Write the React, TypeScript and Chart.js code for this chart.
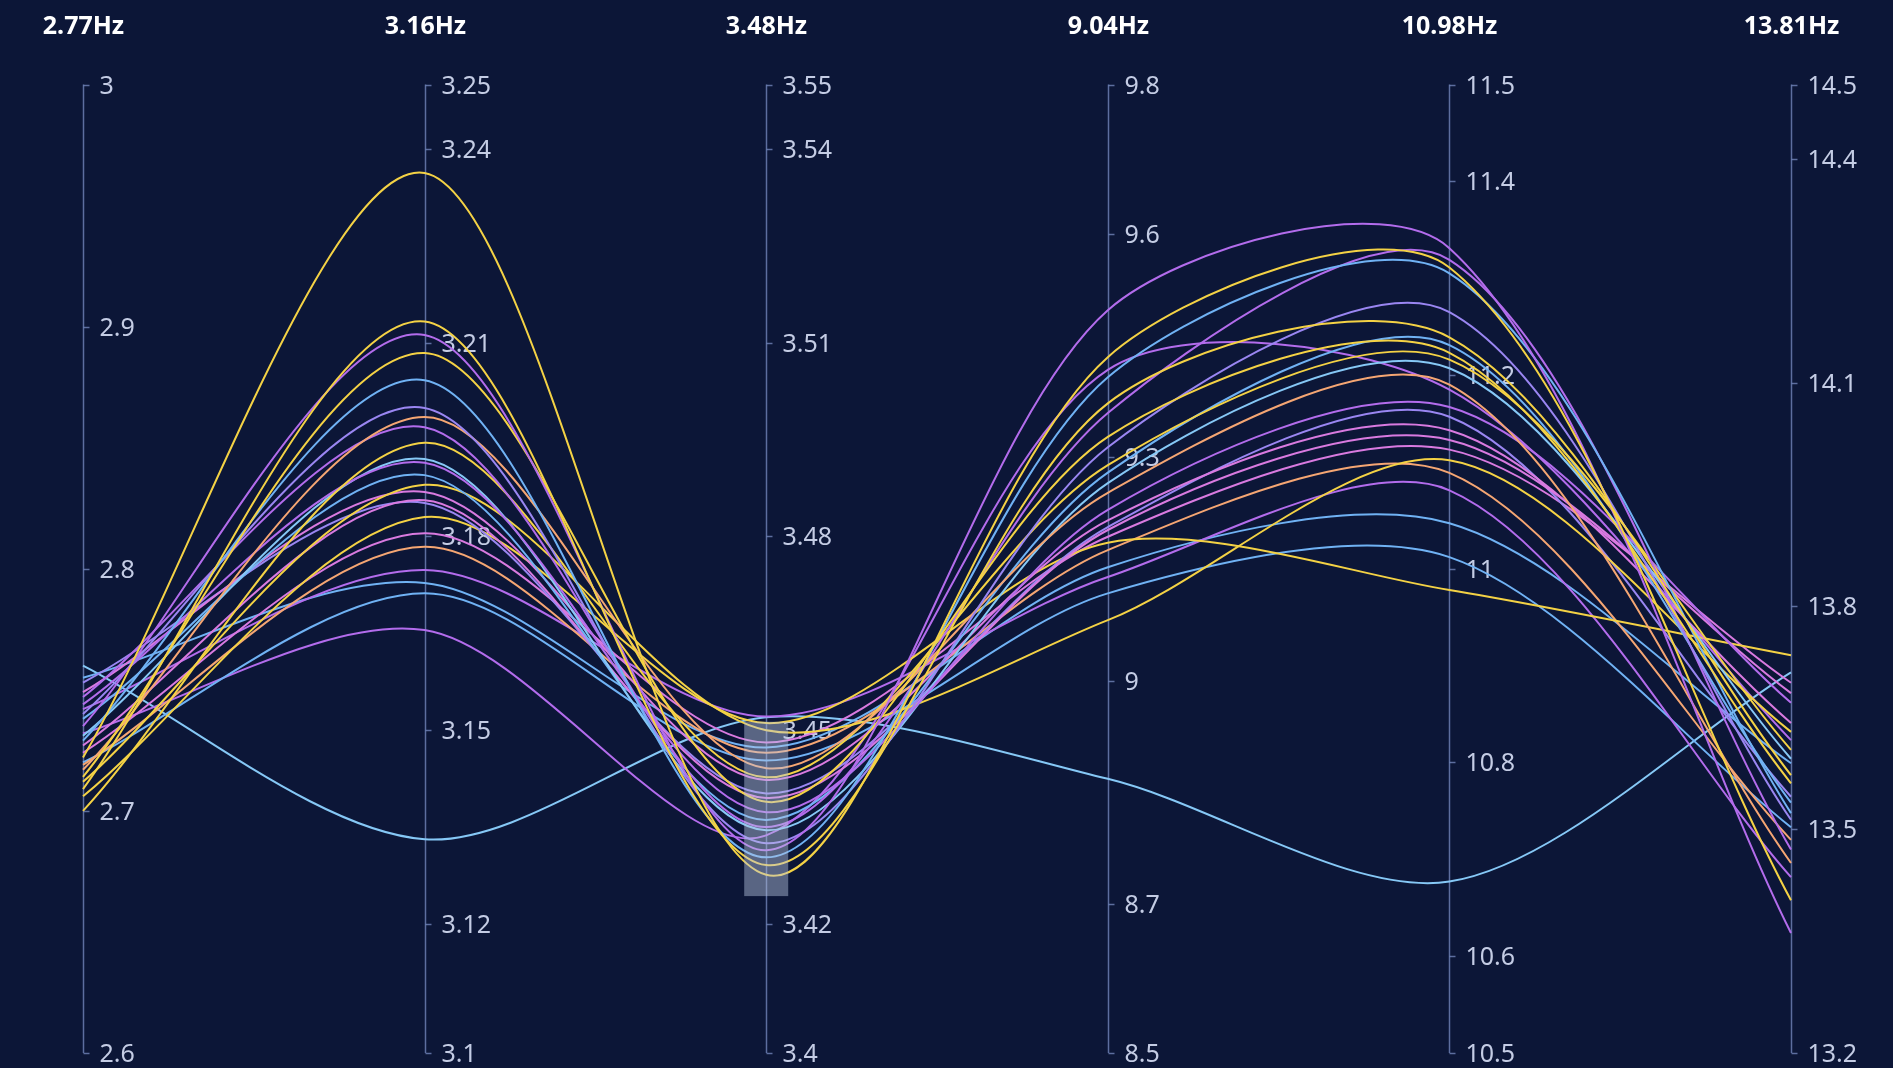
import React, { useEffect, useRef } from 'react';
import { Chart, registerables } from 'chart.js';

Chart.register(...registerables);

// ---- axes ----
const axisNames = ['2.77Hz', '3.16Hz', '3.48Hz', '9.04Hz', '10.98Hz', '13.81Hz'];
const axisMin = [2.6, 3.1, 3.4, 8.5, 10.5, 13.2];
const axisMax = [3.0, 3.25, 3.55, 9.8, 11.5, 14.5];
const axisTicks1 = [2.6, 2.7, 2.8, 2.9, 3];
const axisTicks2 = [3.1, 3.12, 3.15, 3.18, 3.21, 3.24, 3.25];
const axisTicks3 = [3.4, 3.42, 3.45, 3.48, 3.51, 3.54, 3.55];
const axisTicks4 = [8.5, 8.7, 9, 9.3, 9.6, 9.8];
const axisTicks5 = [10.5, 10.6, 10.8, 11, 11.2, 11.4, 11.5];
const axisTicks6 = [13.2, 13.5, 13.8, 14.1, 14.4, 14.5];
const axisTicks = [axisTicks1, axisTicks2, axisTicks3, axisTicks4, axisTicks5, axisTicks6];

// brush selection on the 3.48Hz axis
const brushAxis = 2;
const brushRange = [3.4243, 3.4513];

// ---- series (values at 2.77, 3.16, 3.48, 9.04, 10.98, 13.81 Hz) ----
const line01 = [2.722, 3.2363, 3.4276, 9.434, 11.311, 13.405];
const line02 = [2.709, 3.2133, 3.4291, 9.372, 11.239, 13.573];
const line03 = [2.735, 3.2112, 3.4314, 9.497, 11.331, 13.361];
const line04 = [2.714, 3.2084, 3.4389, 9.327, 11.223, 13.562];
const line05 = [2.729, 3.2042, 3.4303, 9.407, 11.305, 13.522];
const line06 = [2.740, 3.1999, 3.4325, 9.313, 11.265, 13.513];
const line07 = [2.717, 3.1985, 3.4441, 9.252, 11.190, 13.455];
const line08 = [2.747, 3.1969, 3.4350, 9.359, 11.319, 13.473];
const line09 = [2.700, 3.1945, 3.4427, 9.289, 11.216, 13.607];
const line10 = [2.744, 3.1914, 3.4373, 9.229, 11.167, 13.670];
const line11 = [2.731, 3.1920, 3.4345, 9.265, 11.207, 13.595];
const line12 = [2.738, 3.1895, 3.4361, 9.279, 11.231, 13.536];
const line13 = [2.712, 3.1880, 3.4500, 9.081, 11.112, 13.631];
const line14 = [2.749, 3.1869, 3.4423, 9.215, 11.143, 13.643];
const line15 = [2.727, 3.1856, 3.4395, 9.202, 11.133, 13.683];
const line16 = [2.753, 3.1852, 3.4402, 9.206, 11.157, 13.544];
const line17 = [2.706, 3.1830, 3.4511, 9.185, 10.978, 13.734];
const line18 = [2.724, 3.1805, 3.4481, 9.193, 11.123, 13.697];
const line19 = [2.719, 3.1784, 3.4465, 9.175, 11.099, 13.486];
const line20 = [2.742, 3.1748, 3.4521, 9.139, 11.081, 13.436];
const line21 = [2.755, 3.1728, 3.4473, 9.152, 11.047, 13.589];
const line22 = [2.720, 3.1712, 3.4453, 9.117, 11.012, 13.503];
const line23 = [2.732, 3.1655, 3.4337, 9.417, 11.185, 13.620];
const line24 = [2.760, 3.1331, 3.4520, 8.868, 10.677, 13.711];

const seriesValues = [
  line01, line02, line03, line04, line05, line06, line07, line08,
  line09, line10, line11, line12, line13, line14, line15, line16,
  line17, line18, line19, line20, line21, line22, line23, line24,
];

const Y = '#f4d245';
const O = '#f5a673';
const P = '#b36cec';
const M = '#d97ae0';
const B = '#70b2f4';
const C = '#86c8f6';
const V = '#9a86f2';
const seriesColors = [Y, Y, P, Y, B, V, O, P, Y, P, C, B, Y, M, M, V, Y, M, O, P, B, B, P, C];

const BG = '#0c1637';
const AXIS_COLOR = 'rgba(120,140,195,0.75)';
const LABEL_COLOR = '#c4cce4';

const norm = (i: number, v: number) => (v - axisMin[i]) / (axisMax[i] - axisMin[i]);

const fmt = (v: number) => String(v);

const parallelAxesPlugin = {
  id: 'parallelAxes',
  beforeDatasetsDraw(chart: any) {
    const { ctx, scales } = chart;
    const xs = scales.x;
    const ys = scales.y;
    ctx.save();
    axisNames.forEach((name: string, i: number) => {
      const px = Math.round(xs.getPixelForValue(i)) + 0.5;
      const top = ys.getPixelForValue(1);
      const bottom = ys.getPixelForValue(0);
      ctx.strokeStyle = AXIS_COLOR;
      ctx.lineWidth = 1.5;
      ctx.beginPath();
      ctx.moveTo(px, top);
      ctx.lineTo(px, bottom);
      ctx.stroke();

      ctx.font = '25px "Noto Sans", "Open Sans", sans-serif';
      ctx.fillStyle = LABEL_COLOR;
      ctx.textAlign = 'left';
      ctx.textBaseline = 'middle';
      axisTicks[i].forEach((t: number) => {
        const py = Math.round(ys.getPixelForValue(norm(i, t))) + 0.5;
        ctx.beginPath();
        ctx.moveTo(px, py);
        ctx.lineTo(px + 6, py);
        ctx.stroke();
        ctx.fillText(fmt(t), px + 16, py + 1);
      });

      ctx.font = 'bold 25px "Noto Sans", "Open Sans", sans-serif';
      ctx.fillStyle = '#ffffff';
      ctx.textAlign = 'center';
      ctx.textBaseline = 'middle';
      ctx.fillText(name, px, 27);
    });
    ctx.restore();
  },
};

const brushPlugin = {
  id: 'brushArea',
  afterDatasetsDraw(chart: any) {
    const { ctx, scales } = chart;
    const px = scales.x.getPixelForValue(brushAxis);
    const y1 = scales.y.getPixelForValue(norm(brushAxis, brushRange[1]));
    const y2 = scales.y.getPixelForValue(norm(brushAxis, brushRange[0]));
    ctx.save();
    ctx.fillStyle = 'rgba(185,198,225,0.45)';
    ctx.fillRect(px - 22, y1, 44, y2 - y1);
    ctx.restore();
  },
};

export default function App() {
  const canvasRef = useRef<HTMLCanvasElement | null>(null);

  useEffect(() => {
    const canvas = canvasRef.current;
    if (!canvas) return;
    const datasets = seriesValues.map((vals, k) => ({
      label: 'S' + (k + 1),
      data: vals.map((v, i) => norm(i, v)),
      borderColor: seriesColors[k],
      backgroundColor: seriesColors[k],
      borderWidth: 2,
      pointRadius: 0,
      tension: 0.3,
      fill: false,
      clip: false as any,
    }));
    const chart = new Chart(canvas, {
      type: 'line',
      data: { labels: axisNames, datasets },
      options: {
        animation: false,
        responsive: false,
        maintainAspectRatio: false,
        layout: { padding: { left: 83, right: 102, top: 84.5, bottom: 15 } },
        scales: {
          x: { type: 'category', display: false, offset: false },
          y: { type: 'linear', display: false, min: 0, max: 1 },
        },
        plugins: {
          legend: { display: false },
          tooltip: { enabled: false },
        },
        elements: { point: { radius: 0 } },
      },
      plugins: [parallelAxesPlugin, brushPlugin],
    });
    return () => chart.destroy();
  }, []);

  return (
    <div style={{ position: 'fixed', left: 0, top: 0, width: 1893, height: 1068, background: BG }}>
      <canvas ref={canvasRef} width={1893} height={1068} style={{ display: 'block', width: 1893, height: 1068 }} />
    </div>
  );
}
